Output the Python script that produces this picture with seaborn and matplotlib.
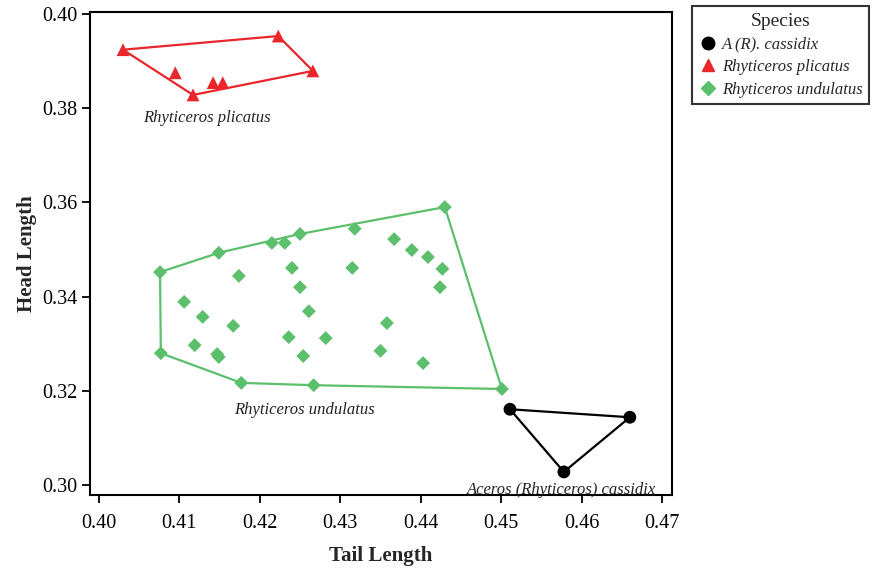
import numpy as np
import pandas as pd
import matplotlib
matplotlib.use("Agg")
import matplotlib.pyplot as plt
from matplotlib.lines import Line2D
import seaborn as sns

# --- data ---
cassidix_tail = [0.4511, 0.4660, 0.4578]
cassidix_head = [0.3161, 0.3144, 0.3028]

plicatus_tail = [0.4030, 0.4095, 0.4117, 0.4142, 0.4154, 0.4223, 0.4266]
plicatus_head = [0.3924, 0.3875, 0.3828, 0.3854, 0.3854, 0.3953, 0.3879]

undulatus_tail = [0.4076, 0.4149, 0.4215, 0.4231, 0.4250, 0.4318, 0.4430,
                  0.4174, 0.4240, 0.4250, 0.4106, 0.4129, 0.4167, 0.4261,
                  0.4119, 0.4147, 0.4149, 0.4236, 0.4282, 0.4254, 0.4077,
                  0.4177, 0.4267, 0.4501, 0.4367, 0.4389, 0.4409, 0.4427,
                  0.4424, 0.4315, 0.4358, 0.4350, 0.4403]
undulatus_head = [0.3452, 0.3493, 0.3514, 0.3514, 0.3533, 0.3544, 0.3590,
                  0.3444, 0.3461, 0.3420, 0.3389, 0.3357, 0.3338, 0.3369,
                  0.3297, 0.3278, 0.3272, 0.3314, 0.3312, 0.3274, 0.3280,
                  0.3217, 0.3212, 0.3204, 0.3522, 0.3499, 0.3484, 0.3459,
                  0.3420, 0.3461, 0.3344, 0.3285, 0.3259]

species = ["A (R). cassidix", "Rhyticeros plicatus", "Rhyticeros undulatus"]
colors = {"A (R). cassidix": "black",
          "Rhyticeros plicatus": "#e8262b",
          "Rhyticeros undulatus": "#5cbf6c"}
markers = {"A (R). cassidix": "o",
           "Rhyticeros plicatus": "^",
           "Rhyticeros undulatus": "D"}
sizes = {"A (R). cassidix": 85,
         "Rhyticeros plicatus": 85,
         "Rhyticeros undulatus": 50}

group_labels = ["Aceros (Rhyticeros) cassidix", "Rhyticeros plicatus", "Rhyticeros undulatus"]
label_x = [0.4575, 0.4134, 0.4256]
label_y = [0.2989, 0.3779, 0.3159]

df = pd.concat([
    pd.DataFrame({"Tail Length": cassidix_tail, "Head Length": cassidix_head, "Species": species[0]}),
    pd.DataFrame({"Tail Length": plicatus_tail, "Head Length": plicatus_head, "Species": species[1]}),
    pd.DataFrame({"Tail Length": undulatus_tail, "Head Length": undulatus_head, "Species": species[2]}),
], ignore_index=True)


def convex_hull(pts):
    pts = sorted(set(pts))
    def cross(o, a, b):
        return (a[0] - o[0]) * (b[1] - o[1]) - (a[1] - o[1]) * (b[0] - o[0])
    lower, upper = [], []
    for p in pts:
        while len(lower) >= 2 and cross(lower[-2], lower[-1], p) <= 0:
            lower.pop()
        lower.append(p)
    for p in reversed(pts):
        while len(upper) >= 2 and cross(upper[-2], upper[-1], p) <= 0:
            upper.pop()
        upper.append(p)
    return lower[:-1] + upper[:-1]


sns.set_theme(style="white")
plt.rcParams['font.family'] = ['Liberation Serif', 'DejaVu Serif']

fig = plt.figure(figsize=(8.81, 5.72), dpi=100)
ax = fig.add_axes([0.1022, 0.1346, 0.6602, 0.8444])

for sp in species:
    sub = df[df["Species"] == sp]
    hull = convex_hull(list(zip(sub["Tail Length"], sub["Head Length"])))
    hull.append(hull[0])
    hx, hy = zip(*hull)
    ax.plot(hx, hy, color=colors[sp], lw=1.6, zorder=2)
    sns.scatterplot(data=sub, x="Tail Length", y="Head Length", color=colors[sp],
                    marker=markers[sp], s=sizes[sp], edgecolor="none", ax=ax,
                    zorder=3, legend=False)

for txt, tx, ty in zip(group_labels, label_x, label_y):
    ax.text(tx, ty, txt, style="italic", fontsize=12, ha="center", va="center", color="#222222")

ax.set_xlim(0.3989, 0.4712)
ax.set_ylim(0.2979, 0.4004)
ax.set_xticks(np.arange(0.40, 0.4701, 0.01))
ax.set_yticks(np.arange(0.30, 0.4001, 0.02))
ax.xaxis.set_major_formatter(matplotlib.ticker.FormatStrFormatter("%.2f"))
ax.yaxis.set_major_formatter(matplotlib.ticker.FormatStrFormatter("%.2f"))
ax.tick_params(axis="both", direction="out", length=6, width=1.3, labelsize=14.5,
               colors="black", left=True, bottom=True)
ax.tick_params(axis="x", pad=8)
ax.tick_params(axis="y", pad=3)
for s in ax.spines.values():
    s.set_color("black")
    s.set_linewidth(1.5)

ax.set_xlabel("Tail Length", fontsize=15, fontweight="bold", labelpad=9)
ax.set_ylabel("Head Length", fontsize=15, fontweight="bold", labelpad=4)

handles = [Line2D([], [], linestyle="none", marker=markers[sp], color=colors[sp],
                  markersize=(9 if markers[sp] != "D" else 7)) for sp in species]
leg = fig.legend(handles, species, title="Species", loc="upper left",
                 bbox_to_anchor=(692 / 881, 1 - 6 / 572), borderaxespad=0,
                 frameon=True, fancybox=False,
                 prop={"style": "italic", "size": 12}, title_fontsize=14,
                 handletextpad=0.3, handlelength=1.1, borderpad=0.4, labelspacing=0.4)
leg.get_frame().set_edgecolor("black")
leg.get_frame().set_linewidth(1.5)

fig.savefig("out.png", dpi=100)
